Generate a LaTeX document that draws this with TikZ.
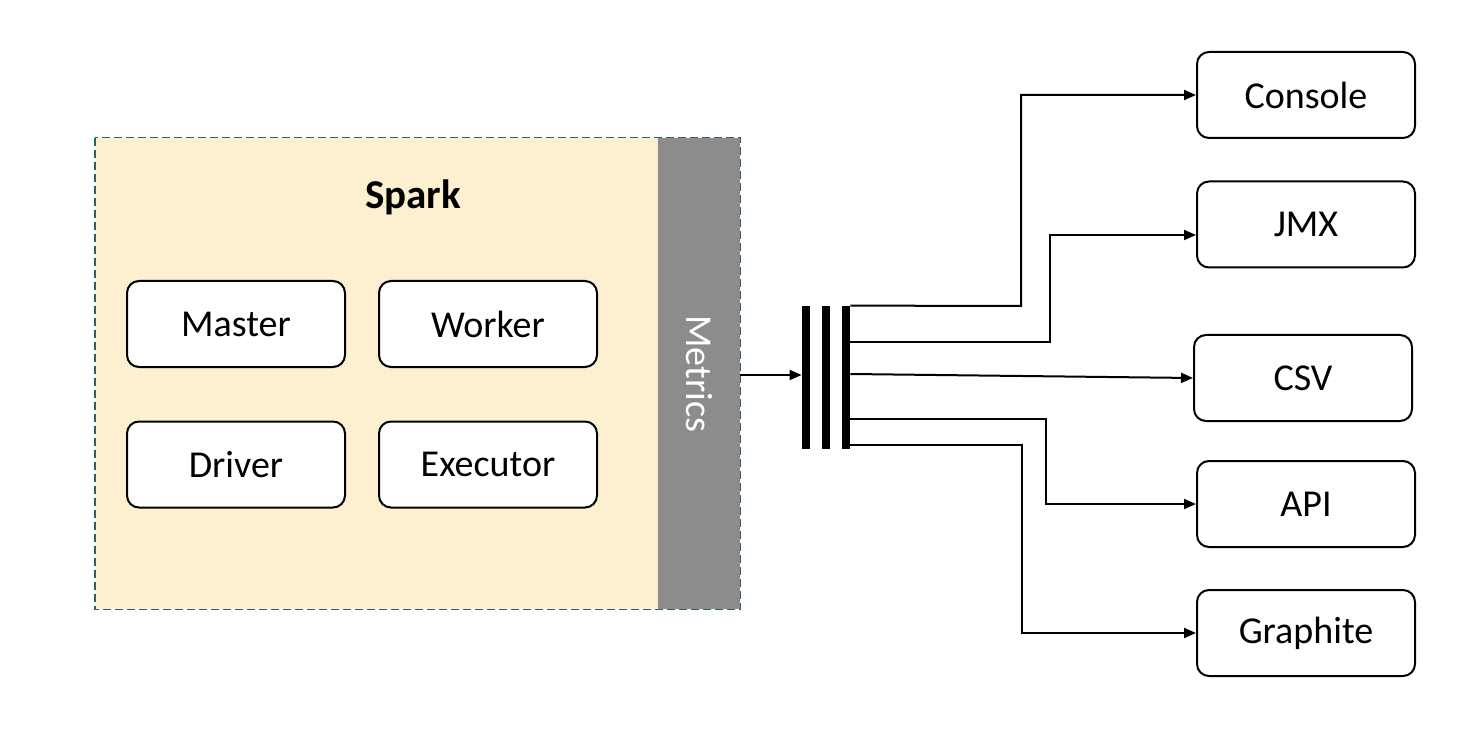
\documentclass[tikz,border=0pt]{standalone}
\usepackage{fontspec}
\setmainfont{Carlito}
\usetikzlibrary{arrows.meta,calc}
\definecolor{sparkfill}{HTML}{FDF0D0}
\definecolor{metricsgray}{HTML}{8C8C8C}
\definecolor{dashteal}{HTML}{2F5F6A}
\tikzset{
 comp/.style={draw=black, line width=1pt, rounded corners=6pt, fill=white, minimum width=109pt, minimum height=43pt, inner sep=0pt, font=\fontsize{19}{21}\selectfont},
 barnode/.style={fill=black, draw=none, minimum width=4pt, minimum height=71.5pt, inner sep=0pt},
 conn/.style={line width=1pt, -{Triangle[length=6pt,width=5pt]}},
 label/.style={inner sep=0pt, font=\fontsize{19}{21}\selectfont},
}
\begin{document}
\begin{tikzpicture}[x=0.5pt,y=-0.5pt]
\useasboundingbox (0,0) rectangle (1476,732);
% container
\node[fill=sparkfill, minimum width=322.5pt, minimum height=235.5pt, inner sep=0pt] (spark) at (417.5,373.5) {};
\node[fill=metricsgray, minimum width=41pt, minimum height=235.5pt, inner sep=0pt] (metrics) at (699,373.5) {};
\node[label, white, rotate=-90] (metricslabel) at (metrics.center) {Metrics};
\draw[dashteal, line width=0.9pt, dash pattern=on 4pt off 2pt] (spark.north west) rectangle (spark.south east);
\node[label, font=\bfseries\fontsize{20.5}{22}\selectfont] (sparklabel) at (413,197) {Spark};
% components
\node[comp] (master) at (236,324) {Master};
\node[comp] (worker) at (488,324) {Worker};
\node[comp] (driver) at (236,464.5) {Driver};
\node[comp] (executor) at (488,464.5) {Executor};
% bars
\node[barnode] (b1) at (806,377.5) {};
\node[barnode] (b2) at (826,377.5) {};
\node[barnode] (b3) at (846,377.5) {};
% sinks
\node[comp] (console) at (1306,95) {Console};
\node[comp] (jmx) at (1306,224.5) {JMX};
\node[comp] (csv) at (1303,378) {CSV};
\node[comp] (api) at (1306,504) {API};
\node[comp] (graphite) at (1306,633) {Graphite};
% connectors
\draw[conn] (metrics.east |- 0,375) -- (b1.west |- 0,375);
\draw[conn] (b3.north east) -- (1021,306) |- (console.west);
\draw[conn] (b3.east |- 0,342) -- (1050,342) |- (jmx.west |- 0,235);
\draw[conn] (b3.east |- 0,374) -- (csv.west);
\draw[conn] (b3.east |- 0,419) -- (1046,419) |- (api.west);
\draw[conn] (b3.east |- 0,445) -- (1022,445) |- (graphite.west);
\end{tikzpicture}
\end{document}
